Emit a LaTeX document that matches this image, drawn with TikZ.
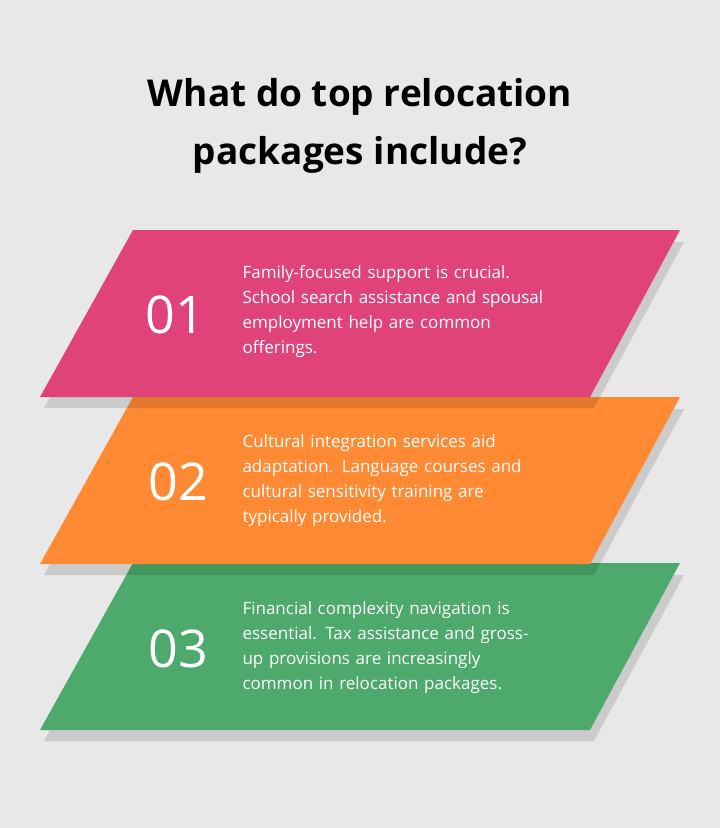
\documentclass[tikz,border=0pt]{standalone}
\usepackage{fontspec}
\setmainfont{Open Sans}
\definecolor{bgcol}{HTML}{E7E8E7}
\definecolor{pinkband}{HTML}{E0437A}
\definecolor{orangeband}{HTML}{FF8A33}
\definecolor{greenband}{HTML}{4DAA6C}
\tikzset{
  band/.style={inner sep=0pt},
  numtext/.style={text=white, font=\fontsize{52}{52}\selectfont, anchor=center},
  bodytext/.style={text=white, font=\fontsize{17}{25}\selectfont, align=left, anchor=west, text width=350pt},
  shade/.style={fill=black, opacity=0.12}
}
\begin{document}
\begin{tikzpicture}[x=1pt,y=-1pt]
\fill[bgcol] (0,0) rectangle (720,828);
\useasboundingbox (0,0) rectangle (720,828);
\node (title) at (360,126) [align=center, font=\bfseries\fontsize{37}{58}\selectfont] {What do top relocation\\packages include?};
% bands, bottom one first so shadows lie under
\foreach \c/\t [count=\i] in {greenband/563, orangeband/397, pinkband/230} {
  \fill[shade] (135,\t+12) -- (684,\t+12) -- (594,\t+178) -- (44,\t+178) -- cycle;
  \fill[\c] (133,\t) -- (680,\t) -- (590,\t+167) -- (40,\t+167) -- cycle;
}
\node[numtext] (n1) at (175,315) {01};
\node[numtext] (n2) at (178,482) {02};
\node[numtext] (n3) at (178,649) {03};
\node[bodytext] (t1) at (239,312) {Family-focused support is crucial.\\School search assistance and spousal\\employment help are common\\offerings.};
\node[bodytext] (t2) at (239,481) {Cultural integration services aid\\adaptation. Language courses and\\cultural sensitivity training are\\typically provided.};
\node[bodytext] (t3) at (239,648) {Financial complexity navigation is\\essential. Tax assistance and gross-\\up provisions are increasingly\\common in relocation packages.};
\end{tikzpicture}
\end{document}
